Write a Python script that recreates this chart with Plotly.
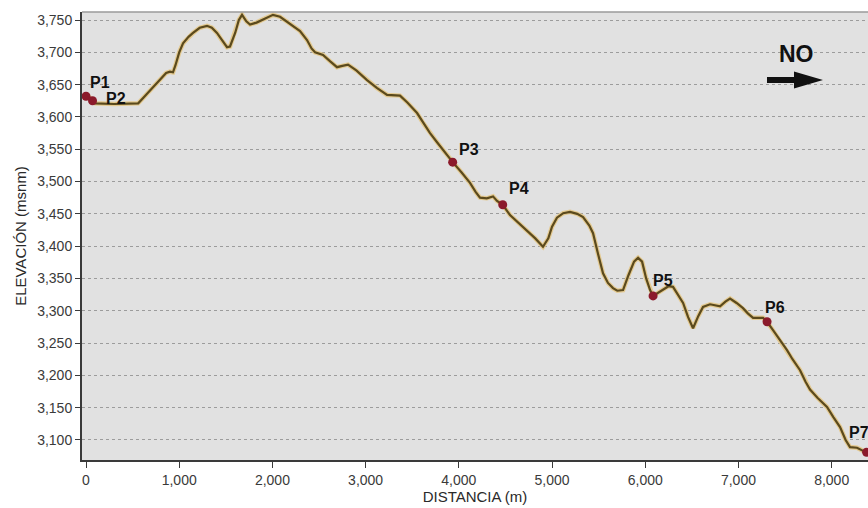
import plotly.graph_objects as go

# ---- data ----
distance_m = [0, 40, 70, 100, 300, 560, 650, 750, 826, 860, 901, 933, 960, 1000, 1041, 1100,
              1148, 1220, 1298, 1350, 1405, 1460, 1513, 1545, 1600, 1640, 1674, 1720, 1760,
              1830, 1899, 1960, 2006, 2082, 2150, 2221, 2296, 2371, 2420, 2457, 2543, 2620,
              2693, 2750, 2811, 2900, 3015, 3120, 3230, 3369, 3450, 3552, 3620, 3691, 3760,
              3830, 3934, 4030, 4120, 4180, 4227, 4300, 4367, 4410, 4471, 4549, 4640, 4732,
              4820, 4903, 4960, 5000, 5053, 5120, 5193, 5270, 5333, 5400, 5440, 5490, 5547,
              5600, 5654, 5700, 5762, 5820, 5880, 5923, 5966, 6010, 6052, 6084, 6140, 6191,
              6250, 6298, 6350, 6406, 6460, 6513, 6570, 6620, 6695, 6750, 6803, 6860, 6910,
              6980, 7049, 7100, 7157, 7264, 7307, 7371, 7430, 7521, 7580, 7661, 7720, 7768,
              7850, 7950, 8020, 8090, 8150, 8197, 8272, 8330, 8380]
elevation_m = [3633, 3630, 3625, 3621, 3620, 3621, 3635, 3650, 3662, 3668, 3670, 3669, 3680,
               3700, 3714, 3724, 3730, 3738, 3741, 3738, 3730, 3718, 3708, 3709, 3730, 3750,
               3758, 3748, 3743, 3746, 3751, 3755, 3758, 3755, 3748, 3740, 3733, 3719, 3706,
               3700, 3696, 3686, 3677, 3679, 3681, 3672, 3657, 3645, 3634, 3633, 3622, 3606,
               3590, 3575, 3562, 3549, 3530, 3514, 3498, 3484, 3475, 3474, 3477, 3470, 3464,
               3448, 3436, 3425, 3412, 3399, 3412, 3430, 3444, 3451, 3453, 3450, 3445, 3432,
               3420, 3390, 3358, 3343, 3335, 3331, 3332, 3355, 3376, 3382, 3376, 3350, 3332,
               3323, 3328, 3332, 3338, 3337, 3325, 3312, 3290, 3273, 3292, 3306, 3310, 3308,
               3307, 3314, 3319, 3312, 3304, 3296, 3289, 3289, 3283, 3270, 3258, 3239, 3225,
               3208, 3190, 3178, 3165, 3151, 3135, 3120, 3100, 3089, 3088, 3084, 3080]

point_names = ["P1", "P2", "P3", "P4", "P5", "P6", "P7"]
point_dist = [0, 70, 3934, 4471, 6084, 7307, 8375]
point_elev = [3632, 3625, 3530, 3464, 3323, 3283, 3081]

y_ticks = list(range(3100, 3751, 50))
x_ticks = list(range(0, 8001, 1000))

# ---- styling / layout ----
W, H = 868, 508
ML, MR, MT, MB = 82, 0, 12, 48
PW, PH = W - ML - MR, H - MT - MB

def px2paper(px, py):
    return (px - ML) / PW, (H - MB - py) / PH

FONT = "Liberation Sans, Arial, sans-serif"

fig = go.Figure()
fig.add_trace(go.Scatter(x=distance_m, y=elevation_m, mode="lines",
                         line=dict(color="rgba(228,198,130,0.85)", width=4.5),
                         hoverinfo="skip", showlegend=False))
fig.add_trace(go.Scatter(x=distance_m, y=elevation_m, mode="lines",
                         line=dict(color="#5b4a1d", width=2.2), showlegend=False))
fig.add_trace(go.Scatter(x=point_dist, y=point_elev, mode="markers",
                         marker=dict(color="#8b1a2b", size=9), showlegend=False,
                         cliponaxis=False))

# label offsets (pixels) relative to each point
label_shift = {"P1": (2, 3), "P2": (11, -8), "P3": (4, 2), "P4": (4, 6),
               "P5": (-2, 5), "P6": (-4, 4), "P7": (-20, 9)}
for n, xd, yd in zip(point_names, point_dist, point_elev):
    dx, dy = label_shift[n]
    fig.add_annotation(x=xd, y=yd, text="<b>%s</b>" % n, showarrow=False,
                       xanchor="left", yanchor="bottom", xshift=dx, yshift=dy,
                       font=dict(family=FONT, size=16, color="#111111"))

# "NO" direction label and arrow
nx, ny = px2paper(796, 54)
fig.add_annotation(xref="paper", yref="paper", x=nx, y=ny, text="<b>NO</b>",
                   showarrow=False, xanchor="center", yanchor="middle",
                   font=dict(family=FONT, size=23, color="#111111"))
pts = [(767, 77), (794, 77), (794, 71.5), (823, 80), (794, 88.5), (794, 83), (767, 83)]
ppts = [px2paper(a, b) for a, b in pts]
path = "M " + " L ".join("%f,%f" % p for p in ppts) + " Z"
fig.add_shape(type="path", xref="paper", yref="paper", path=path,
              fillcolor="#111111", line=dict(width=0))

# top border of plot
fig.add_shape(type="line", xref="paper", yref="paper", x0=0, x1=1, y0=1, y1=1,
              line=dict(color="#9a9a9a", width=1.5))

fig.update_layout(
    width=W, height=H, autosize=False,
    margin=dict(l=ML, r=MR, t=MT, b=MB, pad=0),
    paper_bgcolor="white", plot_bgcolor="#e1e1e1",
    font=dict(family=FONT, size=14, color="#3a3a3a"),
    xaxis=dict(range=[-43, 8390], tickvals=x_ticks, tickformat=",d",
               showgrid=False, zeroline=False, showline=True, linecolor="#3a3a3a",
               linewidth=2, ticks="outside", ticklen=6, tickcolor="#3a3a3a",
               tickfont=dict(size=14, color="#3a3a3a"),
               title=dict(text="DISTANCIA (m)", font=dict(size=15, color="#2a2a2a"),
                          standoff=2)),
    yaxis=dict(range=[3069, 3762.4], tickvals=y_ticks, tickformat=",d",
               showgrid=True, gridcolor="#9c9c9c", griddash="dot", gridwidth=1,
               zeroline=False, showline=True, linecolor="#3a3a3a", linewidth=2,
               ticks="outside", ticklen=5, tickcolor="#3a3a3a",
               tickfont=dict(size=14, color="#3a3a3a"),
               title=dict(text="ELEVACIÓN (msnm)", font=dict(size=15, color="#2a2a2a"),
                          standoff=7)),
)

fig.write_html("out.html")
